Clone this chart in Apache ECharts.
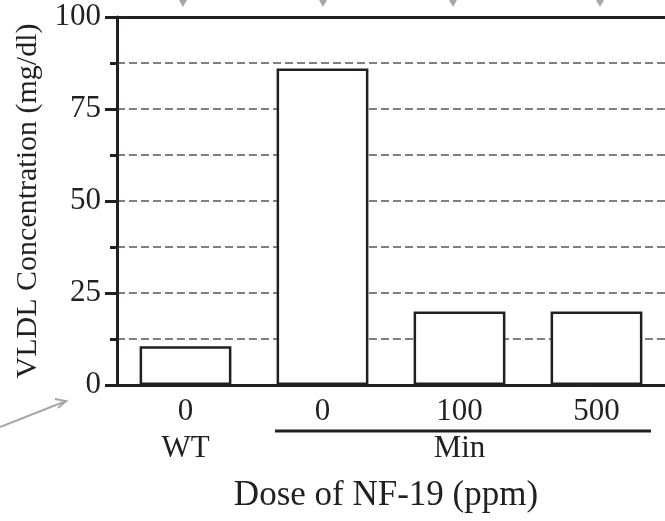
<!DOCTYPE html>
<html>
<head>
<meta charset="utf-8">
<script src="https://cdn.jsdelivr.net/npm/echarts@6/dist/echarts.min.js"></script>
<style>html,body{margin:0;padding:0;background:#fff}#c{width:665px;height:521px}</style>
</head>
<body>
<div id="c"></div>
<script>
var doseLabels = ['0', '0', '100', '500'];
var groupLabels = ['WT', '', 'Min', ''];
var vldlValues = [10.5, 86, 20, 20];
var yTicks = [0, 25, 50, 75, 100];

var FONT = 'Liberation Serif';
var INK = '#231f20';
var chart = echarts.init(document.getElementById('c'));
chart.setOption({
  animation: false,
  backgroundColor: '#fff',
  grid: { left: 117, top: 17, width: 552, height: 368, containLabel: false },
  xAxis: [{
    type: 'category', data: doseLabels, position: 'bottom',
    axisLine: { show: true, lineStyle: { color: INK, width: 3 } },
    axisTick: { show: false },
    axisLabel: { fontFamily: FONT, fontSize: 31, color: INK, margin: 11 },
    name: 'Dose of NF-19 (ppm)', nameLocation: 'middle', nameGap: 93,
    nameTextStyle: { fontFamily: FONT, fontSize: 35, color: INK, padding: [0, 10, 0, 0] }
  }, {
    type: 'category', data: groupLabels, position: 'bottom', offset: 39,
    axisLine: { show: false }, axisTick: { show: false },
    axisLabel: { fontFamily: FONT, fontSize: 31, color: INK, margin: 9 }
  }, {
    type: 'category', data: doseLabels, position: 'top',
    axisLine: { show: true, lineStyle: { color: INK, width: 3 } },
    axisTick: { show: false }, axisLabel: { show: false }
  }],
  yAxis: {
    type: 'value', min: 0, max: 100, interval: 25,
    axisLine: { show: true, lineStyle: { color: INK, width: 3 } },
    axisTick: { show: true, length: 12, lineStyle: { color: INK, width: 3 } },
    minorTick: { show: true, splitNumber: 2, length: 7, lineStyle: { color: INK, width: 3 } },
    splitLine: { show: true, lineStyle: { color: '#7f7f7f', width: 2, type: [8, 4] } },
    minorSplitLine: { show: true, lineStyle: { color: '#7f7f7f', width: 2, type: [8, 4] } },
    axisLabel: { fontFamily: FONT, fontSize: 31, color: INK, margin: 16,
      formatter: function (v) { return yTicks.indexOf(v) >= 0 ? String(v) : ''; } },
    name: 'VLDL Concentration (mg/dl)', nameLocation: 'middle', nameGap: 70, nameRotate: 90,
    nameTextStyle: { fontFamily: FONT, fontSize: 30, color: INK }
  },
  series: [{
    type: 'bar', data: vldlValues, xAxisIndex: 0, barWidth: '67%',
    itemStyle: { color: '#fff', borderColor: INK, borderWidth: 2.5 },
    z: 5
  }],
  graphic: [
    { type: 'line', shape: { x1: 275, y1: 431, x2: 651, y2: 431 }, style: { stroke: INK, lineWidth: 3 } },
    { type: 'polygon', shape: { points: [[179, 0], [187, 0], [183, 7]] }, style: { fill: '#a6a6a6' } },
    { type: 'polygon', shape: { points: [[319, 0], [327, 0], [323, 7]] }, style: { fill: '#a6a6a6' } },
    { type: 'polygon', shape: { points: [[449, 0], [457, 0], [453, 7]] }, style: { fill: '#a6a6a6' } },
    { type: 'polygon', shape: { points: [[596, 0], [604, 0], [600, 7]] }, style: { fill: '#a6a6a6' } },
    { type: 'polyline', shape: { points: [[0, 427], [66, 401]] }, style: { stroke: '#a6a6a6', lineWidth: 2, fill: null } },
    { type: 'polyline', shape: { points: [[58, 408], [66, 401], [55, 399]] }, style: { stroke: '#a6a6a6', lineWidth: 2, fill: null } }
  ]
});
</script>
</body>
</html>
